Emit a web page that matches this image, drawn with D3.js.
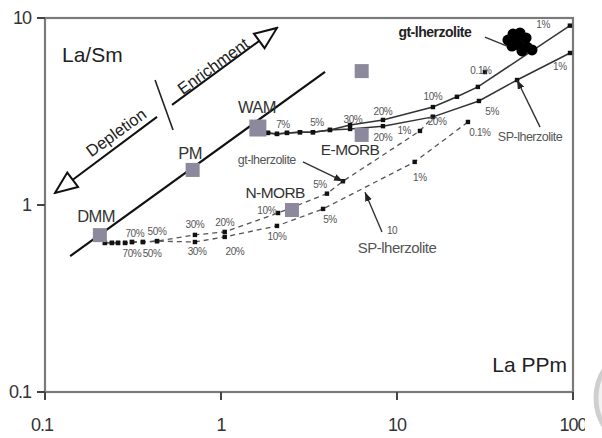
<!DOCTYPE html>
<html>
<head>
<meta charset="utf-8">
<script src="https://cdn.jsdelivr.net/npm/d3@7"></script>
<style>
  body { margin: 0; background: #fff; }
  svg { display: block; font-family: "Liberation Sans", Arial, sans-serif; }
</style>
</head>
<body>
<div id="chart"></div>
<script>
// reservoirs (La ppm, La/Sm)
const resNames = ["DMM", "PM", "WAM", "E-MORB", "", "N-MORB"];
const resLa = [0.205, 0.69, 1.62, 6.3, 6.3, 2.53];
const resLaSm = [0.69, 1.54, 2.58, 2.37, 5.2, 0.94];

// melting curves
const gtSolidLa = [1.85, 2.08, 2.37, 2.81, 3.33, 4.16, 5.41, 8.32, 16.0, 21.9, 28.8, 96];
const gtSolidLaSm = [2.43, 2.4, 2.43, 2.45, 2.45, 2.52, 2.68, 2.85, 3.34, 3.79, 4.28, 9.1];
const spSolidLa = [1.85, 2.08, 2.37, 2.81, 3.33, 4.16, 5.41, 8.32, 16.0, 29.2, 48.1, 96.2];
const spSolidLaSm = [2.43, 2.4, 2.43, 2.45, 2.45, 2.52, 2.55, 2.64, 2.96, 3.6, 4.66, 6.5];
const gtDashLa = [0.219, 0.24, 0.26, 0.285, 0.312, 0.36, 0.433, 0.711, 1.05, 2.11, 4.0, 4.93, 13.5, 16.0];
const gtDashLaSm = [0.627, 0.627, 0.627, 0.627, 0.634, 0.634, 0.641, 0.692, 0.718, 0.906, 1.15, 1.34, 2.49, 2.96];
const spDashLa = [0.219, 0.24, 0.26, 0.285, 0.312, 0.36, 0.433, 0.711, 1.05, 2.08, 3.8, 12.6, 25.3];
const spDashLaSm = [0.627, 0.627, 0.627, 0.627, 0.634, 0.634, 0.641, 0.634, 0.675, 0.773, 0.953, 1.7, 2.78];
const extraDotLa = [31.6];
const extraDotLaSm = [5.14];

// gt-lherzolite samples
const clusterLa = [42.7, 45.6, 50.0, 54.1, 45.0, 49.3, 54.8, 51.3, 58.5, 47.4];
const clusterLaSm = [7.62, 8.2, 8.32, 7.82, 7.08, 7.17, 6.99, 6.67, 6.75, 7.72];

// mixing line and trend arrows
const mixLa = [0.139, 3.9];
const mixLaSm = [0.533, 5.15];
const depletionLa = [0.433, 0.114];
const depletionLaSm = [2.96, 1.16];
const enrichLa = [0.527, 2.08];
const enrichLaSm = [3.43, 8.85];
const dividerLa = [0.422, 0.534];
const dividerLaSm = [4.66, 2.52];

// melt percentage labels: text, La, La/Sm
const pctText = ["70%", "50%", "70%", "50%", "30%", "20%", "30%", "20%", "10%", "10%", "5%", "5%",
  "7%", "5%", "30%", "20%", "20%", "1%", "10%", "20%", "0.1%", "5%", "1%", "0.1%", "1%", "1%", "10"];
const pctLa = [0.324, 0.433, 0.312, 0.406, 0.711, 1.05, 0.731, 1.2, 1.82, 2.08, 3.65, 4.16,
  2.25, 3.51, 5.62, 8.32, 8.32, 11.0, 16.0, 16.9, 30.0, 34.7, 13.5, 29.6, 67.6, 84.3, 9.38];
const pctLaSm = [0.708, 0.726, 0.547, 0.547, 0.782, 0.811, 0.561, 0.561, 0.94, 0.675, 1.28, 0.832,
  2.71, 2.75, 2.88, 3.18, 2.31, 2.49, 3.79, 2.78, 5.21, 3.18, 1.41, 2.43, 9.18, 5.47, 0.734];

// leader arrows: from -> to
const leaders = [
  { text: "gt-lherzolite", tx: 1.82, ty: 1.74, x1: 2.92, y1: 1.7, x2: 4.93, y2: 1.34, head: true },
  { text: "SP-lherzolite", tx: 10.0, ty: 0.596, x1: 8.22, y1: 0.718, x2: 6.58, y2: 1.17, head: true },
  { text: "SP-lherzolite", tx: 57.0, ty: 2.31, x1: 65.0, y1: 2.61, x2: 48.1, y2: 4.66, head: true },
  { text: "gt-lherzolite", tx: 16.4, ty: 8.41, x1: 31.6, y1: 7.91, x2: 42.2, y2: 7.08, head: false }
];

const xTicks = [0.1, 1, 10, 100];
const yTicks = [0.1, 1, 10];

const W = 602, H = 438;
const mLeft = 45, mRight = 573, mTop = 18, mBottom = 392;

const x = d3.scaleLog().domain([0.1, 100]).range([mLeft, mRight]);
const y = d3.scaleLog().domain([0.1, 10]).range([mBottom, mTop]);

const svg = d3.select("#chart").append("svg").attr("width", W).attr("height", H);

const defs = svg.append("defs");
defs.append("marker")
  .attr("id", "open")
  .attr("viewBox", "-2 -12 26 24")
  .attr("refX", 22).attr("refY", 0)
  .attr("markerWidth", 26).attr("markerHeight", 24)
  .attr("markerUnits", "userSpaceOnUse")
  .attr("orient", "auto")
  .append("path")
  .attr("d", "M0,-9L22,0L0,9Z")
  .attr("fill", "#fff").attr("stroke", "#111").attr("stroke-width", 2);
defs.append("marker")
  .attr("id", "head")
  .attr("viewBox", "0 -4 9 8")
  .attr("refX", 9).attr("refY", 0)
  .attr("markerWidth", 9).attr("markerHeight", 8)
  .attr("markerUnits", "userSpaceOnUse")
  .attr("orient", "auto")
  .append("path")
  .attr("d", "M0,-3.5L9,0L0,3.5Z")
  .attr("fill", "#222");
defs.append("clipPath").attr("id", "clipLabels")
  .append("rect").attr("x", 0).attr("y", 0).attr("width", 585).attr("height", H);

// scan artifact at the right edge
svg.append("circle")
  .attr("cx", 648).attr("cy", 398).attr("r", 52)
  .attr("fill", "#f2f2f2").attr("stroke", "#cfcfcf").attr("stroke-width", 5);

// frame
svg.append("rect")
  .attr("x", mLeft).attr("y", mTop)
  .attr("width", mRight - mLeft).attr("height", mBottom - mTop)
  .attr("fill", "none").attr("stroke", "#7a7a7a").attr("stroke-width", 2.2);

// ticks
svg.selectAll(".xtick").data(xTicks).enter().append("line")
  .attr("x1", d => x(d)).attr("x2", d => x(d))
  .attr("y1", mBottom).attr("y2", mBottom + 8)
  .attr("stroke", "#444").attr("stroke-width", 2);
svg.selectAll(".ytick").data(yTicks).enter().append("line")
  .attr("x1", mLeft - 8).attr("x2", mLeft)
  .attr("y1", d => y(d)).attr("y2", d => y(d))
  .attr("stroke", "#444").attr("stroke-width", 2);

const tickFmt = d => (d < 1 ? "0.1" : String(d));
svg.append("g").attr("clip-path", "url(#clipLabels)")
  .selectAll("text").data(xTicks).enter().append("text")
  .attr("x", d => x(d) - (d < 1 ? 3 : 0)).attr("y", 431)
  .attr("text-anchor", "middle")
  .attr("font-size", 18).attr("letter-spacing", -1)
  .attr("fill", "#333")
  .text(tickFmt);
svg.selectAll(".ylab").data(yTicks).enter().append("text")
  .attr("x", 31).attr("y", d => y(d) + 6)
  .attr("text-anchor", "end")
  .attr("font-size", 18).attr("letter-spacing", -1)
  .attr("fill", "#333")
  .text(tickFmt);

// axis titles inside the frame
svg.append("text").attr("x", mLeft + 17).attr("y", 62)
  .attr("font-size", 21).attr("fill", "#222").text("La/Sm");
svg.append("text").attr("x", mRight - 6).attr("y", 372)
  .attr("text-anchor", "end")
  .attr("font-size", 21).attr("fill", "#222").text("La PPm");

const line = d3.line().x(d => x(d[0])).y(d => y(d[1]));
const zipXY = (a, b) => a.map((v, i) => [v, b[i]]);

// mixing line
svg.append("path").attr("d", line(zipXY(mixLa, mixLaSm)))
  .attr("stroke", "#111").attr("stroke-width", 2.2).attr("fill", "none");

// trend arrows
svg.append("path").attr("d", line(zipXY(depletionLa, depletionLaSm)))
  .attr("stroke", "#111").attr("stroke-width", 2).attr("fill", "none")
  .attr("marker-end", "url(#open)");
svg.append("path").attr("d", line(zipXY(enrichLa, enrichLaSm)))
  .attr("stroke", "#111").attr("stroke-width", 2).attr("fill", "none")
  .attr("marker-end", "url(#open)");
svg.append("path").attr("d", line(zipXY(dividerLa, dividerLaSm)))
  .attr("stroke", "#222").attr("stroke-width", 1.6).attr("fill", "none");

const angle = -36;
svg.append("text")
  .attr("transform", `translate(${x(0.253)},${y(2.45)}) rotate(${angle})`)
  .attr("text-anchor", "middle").attr("dominant-baseline", "central")
  .attr("font-size", 16.5).attr("fill", "#222").text("Depletion");
svg.append("text")
  .attr("transform", `translate(${x(0.901)},${y(5.54)}) rotate(${angle})`)
  .attr("text-anchor", "middle").attr("dominant-baseline", "central")
  .attr("font-size", 16.5).attr("fill", "#222").text("Enrichment");

// melting curves
const curves = [
  { la: gtDashLa, sm: gtDashLaSm, dash: "5,4", color: "#555", w: 1.3 },
  { la: spDashLa, sm: spDashLaSm, dash: "5,4", color: "#555", w: 1.3 },
  { la: gtSolidLa, sm: gtSolidLaSm, dash: null, color: "#333", w: 1.5 },
  { la: spSolidLa, sm: spSolidLaSm, dash: null, color: "#333", w: 1.5 }
];
curves.forEach(c => {
  const pts = zipXY(c.la, c.sm);
  svg.append("path").attr("d", line(pts))
    .attr("fill", "none").attr("stroke", c.color)
    .attr("stroke-width", c.w)
    .attr("stroke-dasharray", c.dash);
  svg.append("g").selectAll("rect").data(pts).enter().append("rect")
    .attr("x", d => x(d[0]) - 2.2).attr("y", d => y(d[1]) - 2.2)
    .attr("width", 4.4).attr("height", 4.4)
    .attr("fill", "#111");
});
svg.append("g").selectAll("rect").data(zipXY(extraDotLa, extraDotLaSm)).enter().append("rect")
  .attr("x", d => x(d[0]) - 2.2).attr("y", d => y(d[1]) - 2.2)
  .attr("width", 4.4).attr("height", 4.4).attr("fill", "#111");

// reservoir squares
const res = resNames.map((n, i) => ({ name: n, la: resLa[i], sm: resLaSm[i] }));
svg.append("g").selectAll("rect").data(res).enter().append("rect")
  .attr("x", d => x(d.la) - (d.name === "WAM" ? 8.5 : 7))
  .attr("y", d => y(d.sm) - (d.name === "WAM" ? 8.5 : 7))
  .attr("width", d => (d.name === "WAM" ? 17 : 14))
  .attr("height", d => (d.name === "WAM" ? 17 : 14))
  .attr("fill", "#8b899b");

// reservoir labels
const nameLa = [0.195, 0.667, 1.6, 5.41, 2.03];
const nameLaSm = [0.873, 1.9, 3.34, 1.97, 1.17];
const nameText = ["DMM", "PM", "WAM", "E-MORB", "N-MORB"];
svg.append("g").selectAll("text").data(nameText).enter().append("text")
  .attr("x", (d, i) => x(nameLa[i])).attr("y", (d, i) => y(nameLaSm[i]))
  .attr("text-anchor", "middle").attr("dominant-baseline", "central")
  .attr("font-size", d => (d.length > 3 ? 15.5 : 16.5))
  .attr("letter-spacing", -0.6)
  .attr("fill", "#333").text(d => d);

// melt % labels
svg.append("g").selectAll("text").data(pctText).enter().append("text")
  .attr("x", (d, i) => x(pctLa[i])).attr("y", (d, i) => y(pctLaSm[i]))
  .attr("text-anchor", "middle").attr("dominant-baseline", "central")
  .attr("font-size", 10).attr("letter-spacing", -0.4)
  .attr("fill", "#555").text(d => d);

// gt-lherzolite samples
svg.append("g").selectAll("circle").data(zipXY(clusterLa, clusterLaSm)).enter().append("circle")
  .attr("cx", d => x(d[0])).attr("cy", d => y(d[1])).attr("r", 5.5)
  .attr("fill", "#000");

// leader lines and their labels
leaders.forEach((l, i) => {
  svg.append("line")
    .attr("x1", x(l.x1)).attr("y1", y(l.y1))
    .attr("x2", x(l.x2)).attr("y2", y(l.y2))
    .attr("stroke", "#333").attr("stroke-width", 1.4)
    .attr("marker-end", l.head ? "url(#head)" : null);
  const big = i === 3;
  svg.append("text")
    .attr("x", x(l.tx)).attr("y", y(l.ty))
    .attr("text-anchor", "middle").attr("dominant-baseline", "central")
    .attr("font-size", big ? 14 : (i === 1 ? 15 : 12.5))
    .attr("font-weight", big ? "bold" : "normal")
    .attr("letter-spacing", -0.5)
    .attr("fill", big ? "#222" : "#555")
    .text(l.text);
});
</script>
</body>
</html>
